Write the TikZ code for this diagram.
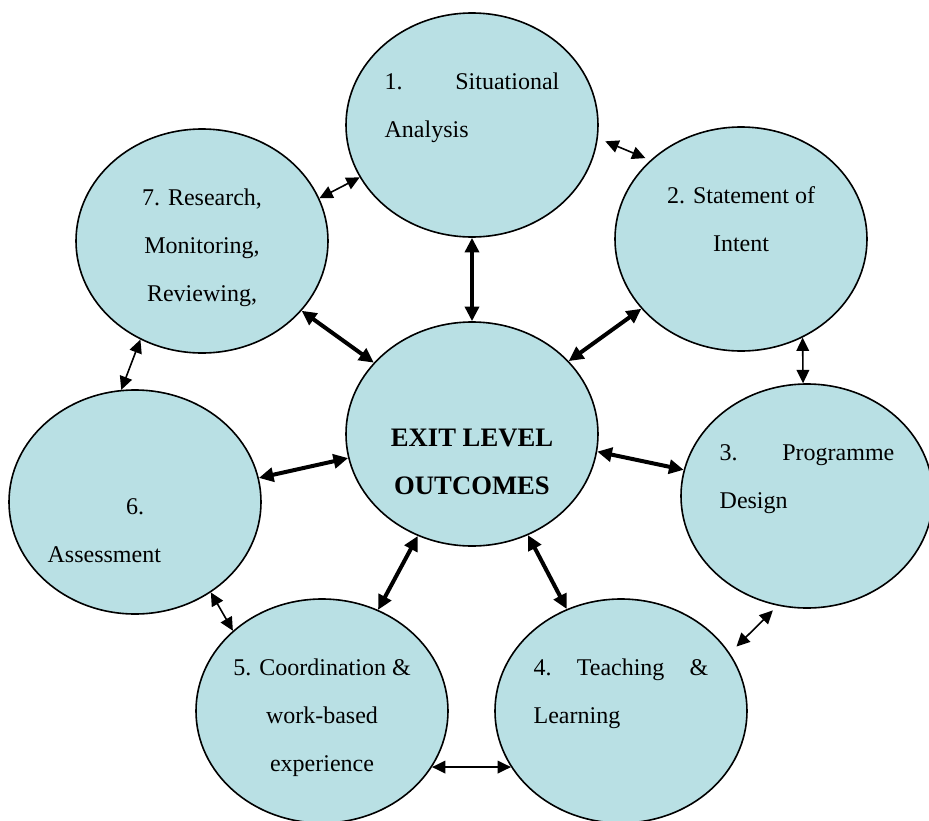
\documentclass[tikz,border=0pt]{standalone}
\usepackage{fontspec}
\setmainfont{Liberation Serif}
\usetikzlibrary{arrows.meta,shapes.geometric}
\definecolor{stagefill}{RGB}{185,224,228}
\newcommand{\firststrut}{\rule{0pt}{29pt}}
\tikzset{
  stage/.style={ellipse, draw, line width=1.2pt, fill=stagefill,
    minimum width=189pt, minimum height=168pt, inner sep=0pt,
    font=\fontsize{18}{36}\selectfont},
  flush/.style={text width=131pt, align=flush left},
  centred/.style={align=center},
  link/.style={line width=1.2pt, >={Triangle[length=10pt,width=9.5pt]}, <->},
  mainlink/.style={line width=3pt, >={Triangle[length=11pt,width=10.5pt]}, <->}
}
\begin{document}
\begin{tikzpicture}[x=0.75pt,y=-0.75pt]
      \useasboundingbox (0,0) rectangle (929,821);
      \draw
        (472,434) node[stage, centred, font=\fontsize{20}{36}\selectfont\bfseries] (0)
          {\firststrut\\EXIT LEVEL\strut\\OUTCOMES\strut}
        (472,125) node[stage, flush] (1)
          {\firststrut 1.\hfill Situational\strut\\Analysis\strut\\\strut}
        (741,239) node[stage, centred] (2)
          {\firststrut 2. Statement of\strut\\Intent\strut\\\strut}
        (807,496) node[stage, flush] (3)
          {\firststrut 3.\hfill Programme\strut\\Design\strut\\\strut}
        (621,711) node[stage, flush] (4)
          {\firststrut 4.\hfill Teaching\hfill\&\strut\\Learning\strut\\\strut}
        (322,711) node[stage, centred] (5)
          {\firststrut 5. Coordination \&\strut\\work-based\strut\\experience\strut}
        (135,502) node[stage, flush] (6)
          {\firststrut\strut\\\hfill 6.\hfill\null\strut\\Assessment\strut}
        (202,241) node[stage, centred] (7)
          {\firststrut 7. Research,\strut\\Monitoring,\strut\\Reviewing,\strut};
      \begin{scope}[mainlink]
        \draw (0.north) to (1.south);
        \draw (0.37.8) to (2.215.1);
        \draw (0.-8.8) to (3.168.8);
        \draw (0.-61.4) to (4.118.1);
        \draw (0.-118.6) to (5.61.5);
        \draw (0.191) to (6.11);
        \draw (0.144) to (7.-35.4);
      \end{scope}
      \begin{scope}[link]
        \draw[shorten <=6pt, shorten >=4pt] (1.-6) to (2.139);
        \draw (2.-58) to (3.92.5);
        \draw[shorten <=5pt, shorten >=7pt] (3.255.6) to (4.28.5);
        \draw (4.207.6) to (5.-27.2);
        \draw (5.138.2) to (6.-50.5);
        \draw (6.97.8) to (7.-122);
        \draw (7.20.3) to (1.205.5);
      \end{scope}
    \end{tikzpicture}
\end{document}
